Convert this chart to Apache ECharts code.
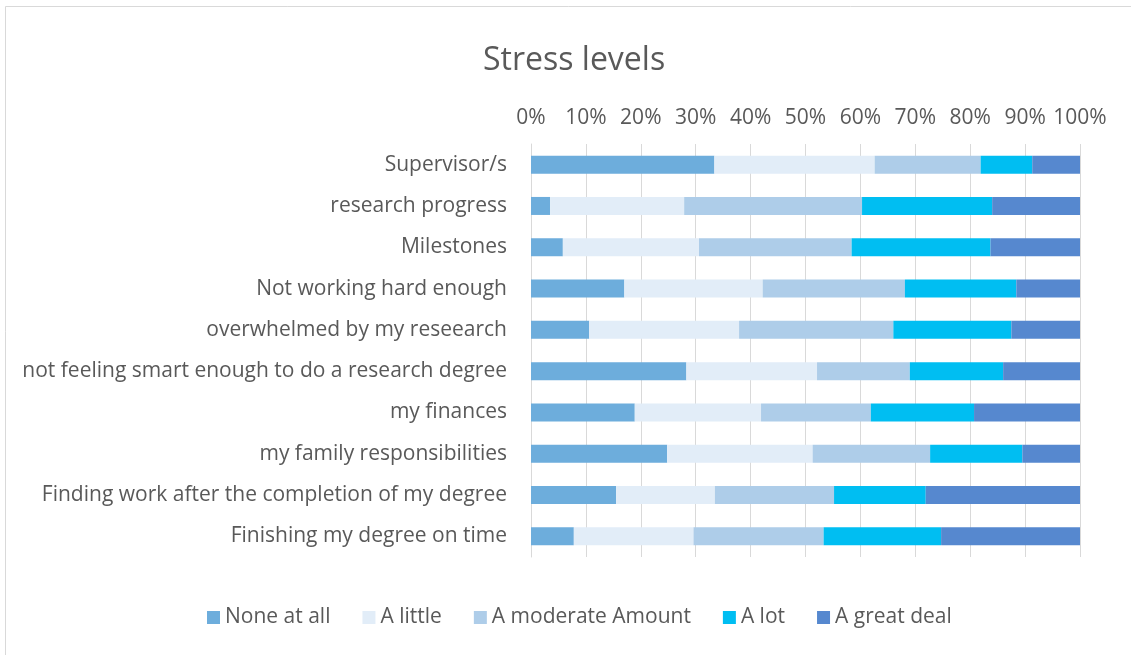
<!DOCTYPE html>
<html>
<head>
<meta charset="utf-8">
<script src="https://cdn.jsdelivr.net/npm/echarts@6/dist/echarts.min.js"></script>
<style>
html,body{margin:0;padding:0;background:#fff;}
#chart{width:1131px;height:655px;}
</style>
</head>
<body>
<div id="chart"></div>
<script>
const categories = [
  "Supervisor/s",
  "research progress",
  "Milestones",
  "Not working hard enough",
  "overwhelmed by my reseearch",
  "not feeling smart enough to do a research degree",
  "my finances",
  "my family responsibilities",
  "Finding work after the completion of my degree",
  "Finishing my degree on time"
];
const seriesNames = ["None at all", "A little", "A moderate Amount", "A lot", "A great deal"];
const noneAtAll   = [33.4, 3.5, 5.8, 17.0, 10.6, 28.3, 18.9, 24.8, 15.5, 7.8];
const aLittle     = [29.2, 24.4, 24.8, 25.2, 27.3, 23.8, 23.0, 26.5, 18.0, 21.8];
const aModerate   = [19.3, 32.4, 27.8, 25.9, 28.1, 16.9, 20.0, 21.4, 21.7, 23.7];
const aLot        = [9.4, 23.7, 25.3, 20.3, 21.5, 17.0, 18.8, 16.8, 16.7, 21.4];
const aGreatDeal  = [8.7, 16.0, 16.3, 11.6, 12.5, 14.0, 19.3, 10.5, 28.1, 25.3];
const tickValues = [0, 10, 20, 30, 40, 50, 60, 70, 80, 90, 100];

const colors = ["#6daddc", "#e2edf8", "#aecde9", "#00bef2", "#5688cf"];
const dataSets = [noneAtAll, aLittle, aModerate, aLot, aGreatDeal];
const font = "'Open Sans', sans-serif";

const chart = echarts.init(document.getElementById('chart'));
chart.setOption({
  animation: false,
  backgroundColor: '#fff',
  title: {
    text: 'Stress levels',
    left: 478,
    top: 40,
    textStyle: { fontFamily: font, fontSize: 32, fontWeight: 'normal', color: '#595959' }
  },
  graphic: [{
    type: 'rect',
    shape: { x: 5.5, y: 6.5, width: 1300, height: 800 },
    style: { fill: 'none', stroke: '#d9d9d9', lineWidth: 1 },
    silent: true
  }],
  legend: {
    bottom: 22,
    left: 202,
    icon: 'rect',
    itemWidth: 13,
    itemHeight: 13,
    itemGap: 32,
    textStyle: { fontFamily: font, fontSize: 21, color: '#595959' },
    data: seriesNames
  },
  grid: { left: 531, right: 51, top: 144, bottom: 98 },
  xAxis: {
    type: 'value',
    position: 'top',
    min: 0,
    max: 100,
    interval: 10,
    axisLine: { show: false },
    axisTick: { show: false },
    axisLabel: {
      formatter: v => tickValues.includes(v) ? v + '%' : '',
      fontFamily: font, fontSize: 21, color: '#595959', margin: 15
    },
    splitLine: { lineStyle: { color: '#d9d9d9', width: 1 } }
  },
  yAxis: {
    type: 'category',
    inverse: true,
    data: categories,
    axisLine: { show: true, lineStyle: { color: '#d9d9d9' } },
    axisTick: { show: false },
    axisLabel: { fontFamily: font, fontSize: 21, color: '#595959', margin: 24, padding: [4, 0, 0, 0] }
  },
  series: seriesNames.map((name, i) => ({
    name: name,
    type: 'bar',
    stack: 'total',
    barWidth: 18,
    data: dataSets[i],
    itemStyle: { color: colors[i] }
  }))
});
</script>
</body>
</html>
